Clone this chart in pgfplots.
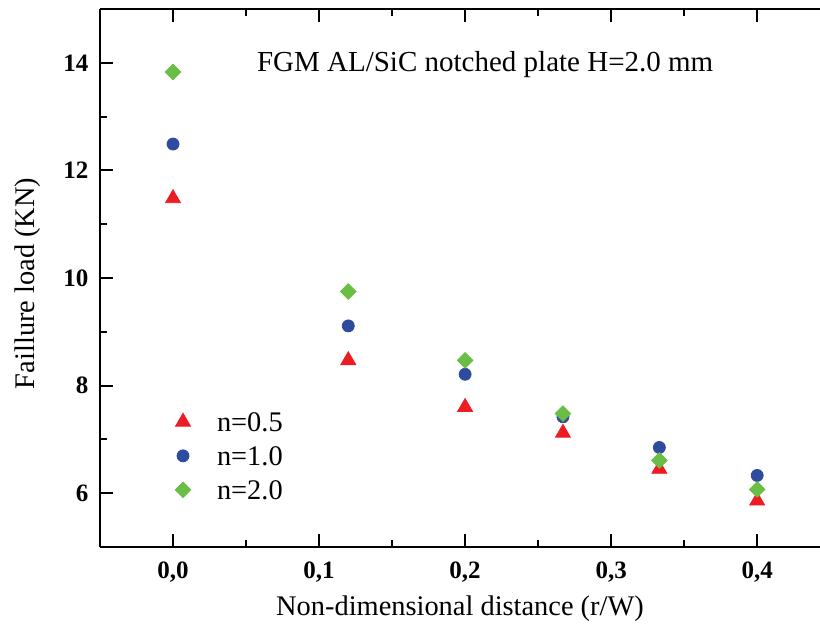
\documentclass[border=0pt]{standalone}
\usepackage{pgfplots}
\pgfplotsset{compat=1.18}
\usepackage{fontspec}
\setmainfont{Liberation Serif}
\definecolor{cred}{RGB}{237,28,36}
\definecolor{cblue}{RGB}{46,75,158}
\definecolor{cgreen}{RGB}{106,189,69}
\begin{document}
\begin{tikzpicture}
\begin{axis}[
  name=ax,
  scale only axis,
  width=360pt, height=269pt,
  xmin=-0.05, xmax=0.443,
  ymin=5, ymax=15,
  axis x line*=box, axis y line*=left,
  axis line style={line width=1.1pt},
  xtick={0,0.1,0.2,0.3,0.4},
  minor xtick={-0.05,0.05,0.15,0.25,0.35},
  ytick={6,8,10,12,14},
  minor ytick={5,7,9,11,13,15},
  tick align=inside,
  major tick length=6.3pt,
  minor tick length=3.5pt,
  every tick/.style={black, line width=1pt},
  /pgf/number format/assume math mode=true,
  ticklabel style={font=\bfseries\fontsize{12.5}{14}\selectfont},
  xticklabel style={/pgf/number format/.cd, use comma, fixed, fixed zerofill, precision=1},
  xticklabel shift=3.8pt,
  yticklabel shift=2.3pt,
  xlabel={Non-dimensional distance (r/W)},
  ylabel={Faillure load (KN)},
  every axis x label/.style={at={(rel axis cs:0.5,0)}, anchor=base, yshift=-34pt, font=\fontsize{14.2}{16}\selectfont},
  every axis y label/.style={at={(rel axis cs:0,0.49)}, rotate=90, anchor=base, yshift=32.5pt, font=\fontsize{14.2}{16}\selectfont},
  legend style={draw=none, fill=none, at={(rel axis cs:0.0931,0.2527)}, anchor=north west,
    inner sep=0pt, outer sep=0pt, column sep=9pt, row sep=4pt,
    font=\fontsize{14.2}{16}\selectfont,
    nodes={inner sep=0pt, text height=10pt, text depth=3pt, anchor=base west}},
  legend cell align=left,
  legend image code/.code={\path[draw=none, fill=none] (-8pt,-1pt) rectangle (8pt,9pt); \draw[#1] plot coordinates {(0pt,4.6pt)};},
]
\addplot[only marks, mark=triangle*, mark size=4.3pt, color=cred, mark options={draw=cred, fill=cred}]
  coordinates {(0,11.48) (0.12,8.47) (0.2,7.60) (0.267,7.12) (0.333,6.45) (0.4,5.86)};
\addlegendentry{n=0.5}
\addplot[only marks, mark=*, mark size=3pt, color=cblue, mark options={draw=cblue, fill=cblue}]
  coordinates {(0,12.49) (0.12,9.11) (0.2,8.21) (0.267,7.42) (0.333,6.85) (0.4,6.33)};
\addlegendentry{n=1.0}
\addplot[only marks, mark=square*, mark size=2.75pt, color=cgreen, mark options={draw=cgreen, fill=cgreen, rotate=45}]
  coordinates {(0,13.83) (0.12,9.75) (0.2,8.47) (0.267,7.48) (0.333,6.61) (0.4,6.07)};
\addlegendentry{n=2.0}
\node[anchor=base, font=\fontsize{14.5}{16}\selectfont] at (axis cs:0.2137,13.84) {FGM AL/SiC notched plate H=2.0 mm};
\end{axis}
\pgfresetboundingbox
\path ([shift={(-50pt,-43pt)}]ax.south west) rectangle ([shift={(0pt,4.5pt)}]ax.north east);
\end{tikzpicture}
\end{document}
